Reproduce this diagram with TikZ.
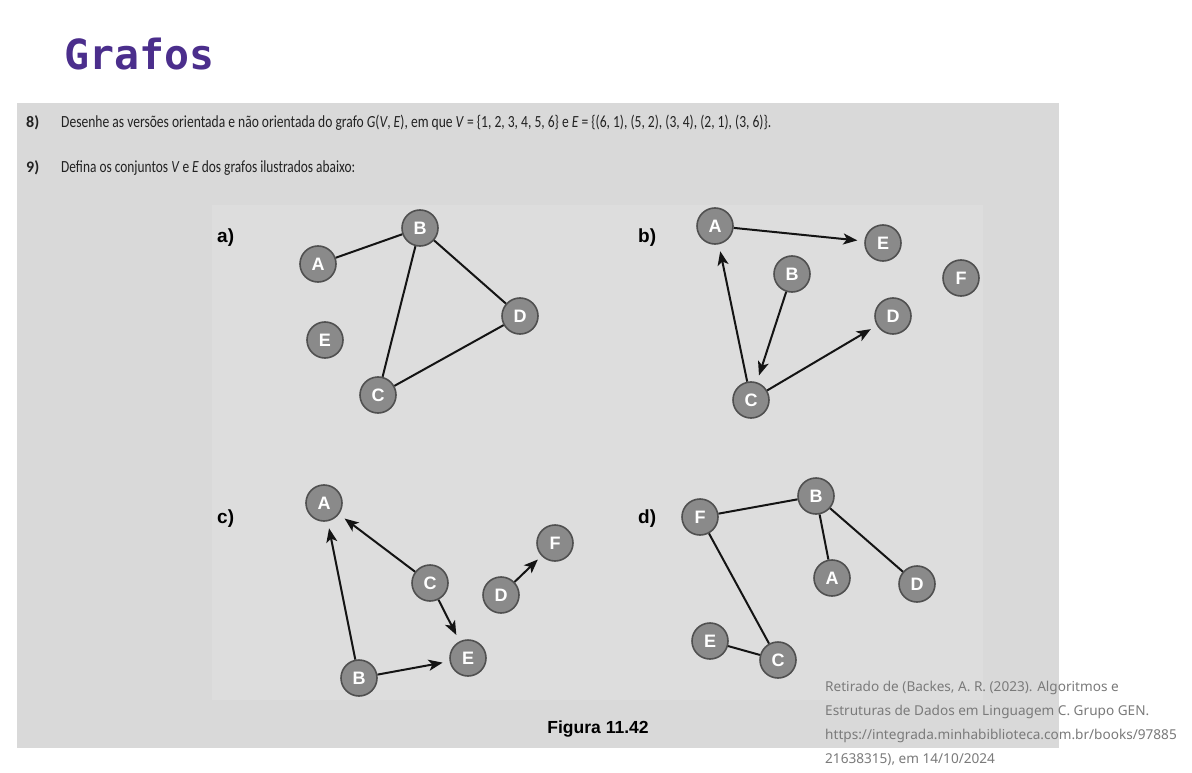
\documentclass[tikz,border=0pt]{standalone}
\usepackage{fontspec}
\usepackage{graphicx}
\usetikzlibrary{arrows.meta}
\setmainfont{Liberation Sans}
\newfontfamily\titlefont{DejaVu Sans Mono}
\newfontfamily\bodyfont{Carlito}
\newfontfamily\notefont{Noto Sans}
\definecolor{panelgray}{HTML}{D9D9D9}
\definecolor{figgray}{HTML}{DDDDDD}
\definecolor{nodegray}{HTML}{8A8A8A}
\definecolor{nodeedge}{HTML}{505050}
\definecolor{titlepurple}{HTML}{4B2E8C}
\definecolor{notegray}{HTML}{7A7A7A}
\definecolor{inkgray}{HTML}{222222}

\tikzset{
  vtx/.style={circle, fill=nodegray, draw=nodeedge, line width=1.6pt,
    minimum size=36pt, inner sep=0pt, text=white,
    font=\fontsize{18}{18}\selectfont\bfseries},
  ulink/.style={line width=2pt, draw=black!92},
  dlink/.style={ulink, -{Stealth[length=14pt,width=11pt,inset=3.5pt]}, shorten >=7pt},
  plabel/.style={anchor=base west, inner sep=0pt, font=\fontsize{19}{19}\selectfont\bfseries},
  qtext/.style={anchor=base west, inner sep=0pt, text=inkgray},
  note/.style={anchor=base west, inner sep=0pt, text=notegray,
    font=\notefont\fontsize{13.6}{13.6}\selectfont},
}

\begin{document}
\begin{tikzpicture}[x=1pt,y=-1pt]
  \useasboundingbox (0,0) rectangle (1192,773);
  \fill[white] (0,0) rectangle (1192,773);

  % heading
  \node[anchor=base west, inner sep=0pt, text=titlepurple,
        font=\titlefont\bfseries\fontsize{41.5}{41.5}\selectfont] (title) at (64,70) {Grafos};

  % exercise panel
  \fill[panelgray] (17,103) rectangle (1059,748);
  \fill[figgray] (212,205) rectangle (983,700);

  \node[qtext, font=\bodyfont\bfseries\fontsize{16}{16}\selectfont] (n8) at (26,128) {8)};
  \node[qtext] (q8) at (61,128) {\resizebox{710pt}{\height}{\bodyfont\fontsize{17}{17}\selectfont
    Desenhe as versões orientada e não orientada do grafo \textit{G}(\textit{V}, \textit{E}), em que
    \textit{V} = \{1, 2, 3, 4, 5, 6\} e \textit{E} = \{(6, 1), (5, 2), (3, 4), (2, 1), (3, 6)\}.}};
  \node[qtext, font=\bodyfont\bfseries\fontsize{16}{16}\selectfont] (n9) at (26,172) {9)};
  \node[qtext] (q9) at (61,172) {\resizebox{294pt}{\height}{\bodyfont\fontsize{17}{17}\selectfont
    Defina os conjuntos \textit{V} e \textit{E} dos grafos ilustrados abaixo:}};

  % graph a)
  \node[plabel] (la) at (217,242) {a)};
  \node[vtx] (aA) at (318,264) {A};
  \node[vtx] (aB) at (420,228) {B};
  \node[vtx] (aD) at (520,316) {D};
  \node[vtx] (aE) at (325,340) {E};
  \node[vtx] (aC) at (378,395) {C};
  \draw[ulink] (aA) -- (aB);
  \draw[ulink] (aB) -- (aC);
  \draw[ulink] (aB) -- (aD);
  \draw[ulink] (aC) -- (aD);

  % graph b)
  \node[plabel] (lb) at (638,242) {b)};
  \node[vtx] (bA) at (715,226) {A};
  \node[vtx] (bE) at (883,243) {E};
  \node[vtx] (bB) at (792,274) {B};
  \node[vtx] (bF) at (961,278) {F};
  \node[vtx] (bD) at (893,316) {D};
  \node[vtx] (bC) at (751,400) {C};
  \draw[dlink] (bA) -- (bE);
  \draw[dlink] (bC) -- (bA);
  \draw[dlink] (bB) -- (bC);
  \draw[dlink] (bC) -- (bD);

  % graph c)
  \node[plabel] (lc) at (217,523) {c)};
  \node[vtx] (cA) at (324,503) {A};
  \node[vtx] (cC) at (430,583) {C};
  \node[vtx] (cF) at (555,543) {F};
  \node[vtx] (cD) at (501,595) {D};
  \node[vtx] (cE) at (468,658) {E};
  \node[vtx] (cB) at (359,678) {B};
  \draw[dlink] (cC) -- (cA);
  \draw[dlink] (cB) -- (cA);
  \draw[dlink] (cC) -- (cE);
  \draw[dlink] (cB) -- (cE);
  \draw[dlink, shorten >=5pt] (cD) -- (cF);

  % graph d)
  \node[plabel] (ld) at (638,523) {d)};
  \node[vtx] (dF) at (700,517) {F};
  \node[vtx] (dB) at (816,496) {B};
  \node[vtx] (dA) at (832,578) {A};
  \node[vtx] (dD) at (917,584) {D};
  \node[vtx] (dE) at (710,641) {E};
  \node[vtx] (dC) at (778,660) {C};
  \draw[ulink] (dF) -- (dB);
  \draw[ulink] (dB) -- (dA);
  \draw[ulink] (dB) -- (dD);
  \draw[ulink] (dF) -- (dC);
  \draw[ulink] (dE) -- (dC);

  % caption
  \node[anchor=base, inner sep=0pt, font=\fontsize{17.5}{17.5}\selectfont\bfseries] (cap) at (598,733) {Figura 11.42};

  % source note
  \node[note] (s1) at (825,691) {Retirado de (Backes, A. R. (2023). Algoritmos e};
  \node[note] (s2) at (825,715) {Estruturas de Dados em Linguagem C. Grupo GEN.};
  \node[note] (s3) at (825,739) {https://integrada.minhabiblioteca.com.br/books/97885};
  \node[note] (s4) at (825,763) {21638315), em 14/10/2024};
\end{tikzpicture}
\end{document}
